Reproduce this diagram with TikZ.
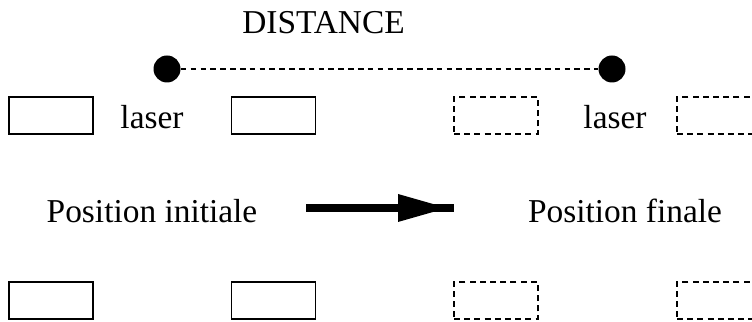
\documentclass[tikz,border=0pt]{standalone}
\usepackage{fontspec}
\setmainfont{Liberation Serif}
\usetikzlibrary{positioning,arrows.meta}

\tikzset{
  mirror/.style={draw, line width=0.6pt, minimum width=1.68cm,
    minimum height=0.74cm, inner sep=0pt},
  ghost/.style={mirror, dash pattern=on 3.4pt off 2.4pt},
  source/.style={circle, fill, inner sep=0pt, minimum size=0.54cm},
  caption/.style={anchor=base, inner sep=0pt}
}

\begin{document}
\begin{tikzpicture}[font=\fontsize{19}{23}\selectfont]
  \useasboundingbox (0,0) rectangle (15.04,6.44);
  % Title
  \node[caption] (dist) at (6.47,5.76) {DISTANCE};
  % Laser sources and distance between them
  \node[source] (srcA) at (3.34,5.06) {};
  \node[source] (srcB) at (12.24,5.06) {};
  \draw[line width=0.6pt, dash pattern=on 3.2pt off 2.4pt] (srcA) -- (srcB);
  % Initial position: solid boxes
  \node[mirror] (topA) at (1.02,4.13) {};
  \node[mirror] (topB) at (5.47,4.13) {};
  \node[mirror] (botA) at (1.02,0.43) {};
  \node[mirror] (botB) at (5.47,0.43) {};
  \node[caption] (laserA) at (3.04,3.86) {laser};
  % Final position: dashed boxes
  \node[ghost] (topC) at (9.92,4.13) {};
  \node[ghost] (topD) at (14.38,4.13) {};
  \node[ghost] (botC) at (9.92,0.43) {};
  \node[ghost] (botD) at (14.38,0.43) {};
  \node[caption] (laserB) at (12.30,3.86) {laser};
  % Labels and move arrow
  \node[caption] (init) at (3.04,1.98) {Position initiale};
  \node[caption] (final) at (12.50,1.98) {Position finale};
  \coordinate (tail) at (6.12,2.28);
  \coordinate (head) at (9.08,2.28);
  \draw[line width=4pt] (tail) -- (head);
  \fill (7.96,2.56) -- (8.94,2.28) -- (7.96,2.00) -- cycle;
\end{tikzpicture}
\end{document}
